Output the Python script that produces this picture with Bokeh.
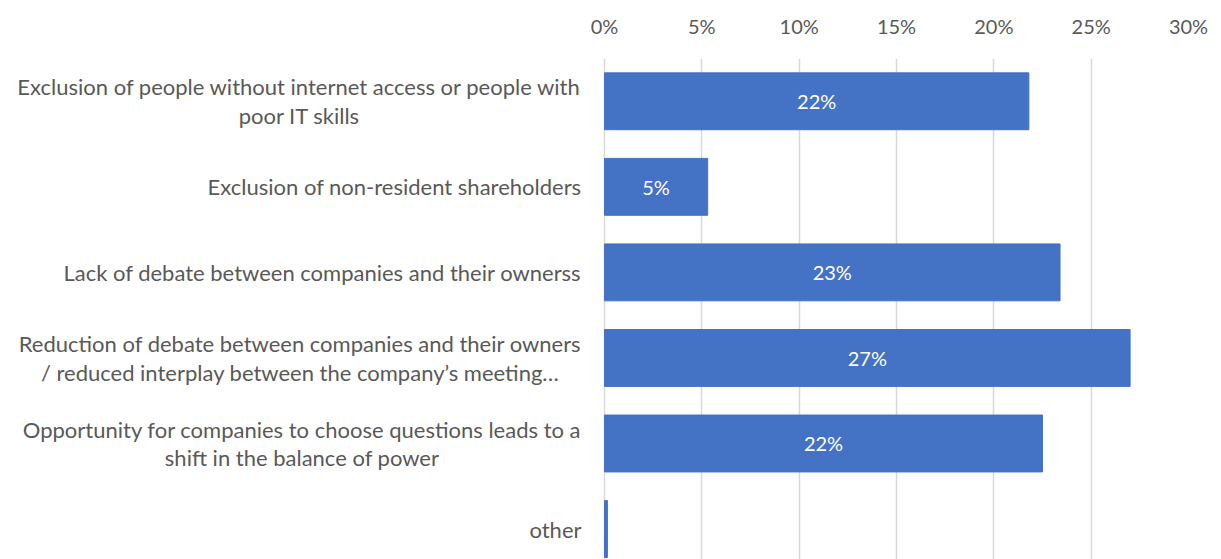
from bokeh.plotting import figure
from bokeh.models import Range1d, FixedTicker, NumeralTickFormatter, ColumnDataSource, Label
from bokeh.core.properties import value
from bokeh.embed import file_html
from bokeh.resources import INLINE

categories = [
    "Exclusion of people without internet access or people with\npoor IT skills",
    "Exclusion of non-resident shareholders",
    "Lack of debate between companies and their ownerss",
    "Reduction of debate between companies and their owners\n/ reduced interplay between the company\u2019s meeting\u2026",
    "Opportunity for companies to choose questions leads to a\nshift in the balance of power",
    "other",
]
values = [0.218, 0.053, 0.234, 0.270, 0.225, 0.0015]
bar_labels = ["22%", "5%", "23%", "27%", "22%", ""]
x_ticks = [0, 0.05, 0.10, 0.15, 0.20, 0.25, 0.30]

FONT = "Lato"
GREY = "#595959"

# frame spans the label area too; the value axis occupies the right 584 px
LABEL_AREA = 604
VALUE_AREA = 584
x_max = 0.30
x_min = -LABEL_AREA * x_max / VALUE_AREA

rows = list(range(len(categories)))
src = ColumnDataSource(dict(y=rows, v=values, mid=[v / 2 for v in values], lab=bar_labels))

p = figure(width=LABEL_AREA + VALUE_AREA + 25, height=559, output_backend="svg", toolbar_location=None,
           x_range=Range1d(x_min, x_max), y_range=Range1d(5.356, -0.5),
           x_axis_location="above", y_axis_location=None,
           min_border_left=0, min_border_right=25, min_border_top=58, min_border_bottom=0)
p.outline_line_color = None

p.hbar(y="y", left=0, right="v", height=0.665, color="#4472C4", source=src)
p.text(x="mid", y="y", text="lab", source=src, text_align="center", text_baseline="middle",
       text_color="white", text_font=value(FONT), text_font_size="20px")

ax = p.xaxis[0]
ax.ticker = FixedTicker(ticks=x_ticks)
ax.formatter = NumeralTickFormatter(format="0%")
ax.axis_line_color = None
ax.major_tick_line_color = None
ax.minor_tick_line_color = None
ax.major_label_text_font = FONT
ax.major_label_text_font_size = "20px"
ax.major_label_text_color = GREY
ax.major_label_standoff = 15

for i, c in zip(rows, categories):
    p.add_layout(Label(x=0, y=i, x_offset=-23, text=c, anchor="center_right",
                       text_align="center", text_baseline="middle", text_font=FONT,
                       text_font_size="22px", text_color=GREY, text_line_height=1.07))

p.xgrid.ticker = FixedTicker(ticks=x_ticks)
p.xgrid.grid_line_color = "#d9d9d9"
p.xgrid.grid_line_width = 1.5
p.ygrid.grid_line_color = None

open("out.html", "w").write(file_html(p, INLINE))
